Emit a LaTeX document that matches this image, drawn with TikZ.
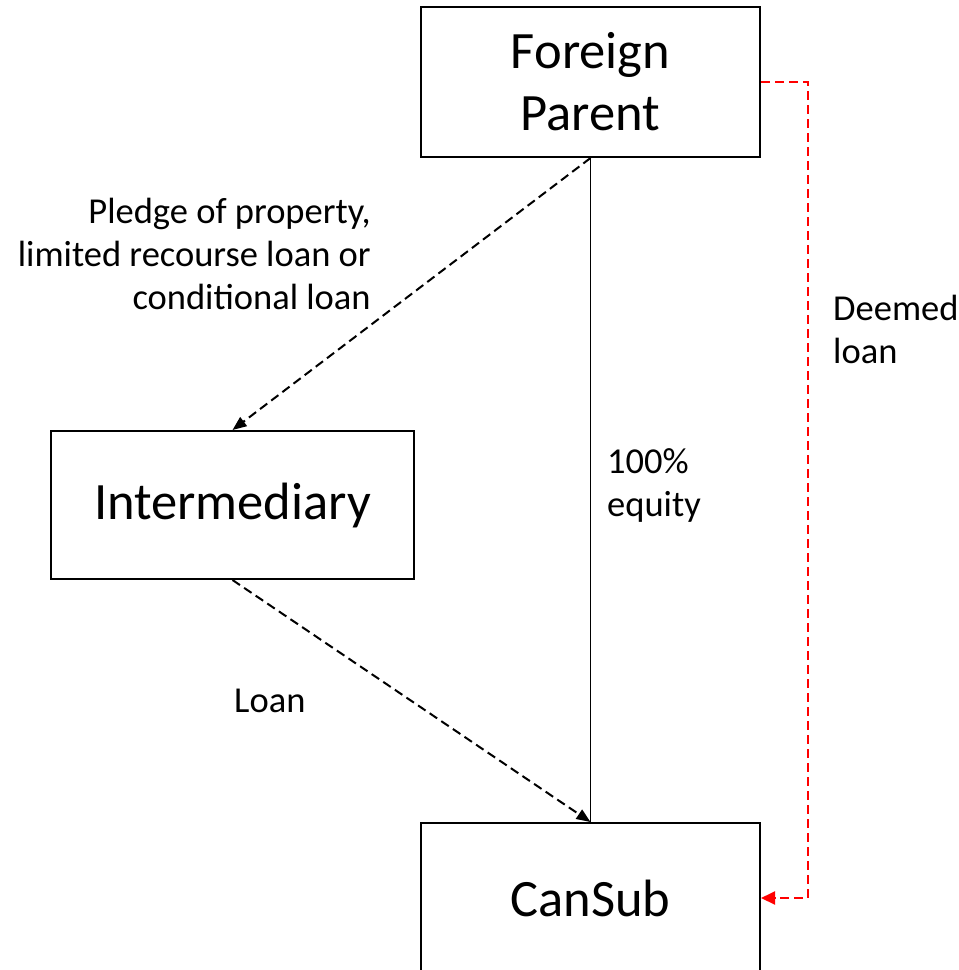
\documentclass[tikz,border=0pt]{standalone}
\usepackage{fontspec}
\setmainfont{Carlito}
\usetikzlibrary{arrows.meta,calc}
\begin{document}
\begin{tikzpicture}[x=1pt,y=-1pt,
  box/.style={draw=black,line width=2pt,minimum width=339pt,minimum height=150pt,inner sep=0pt,align=center,font=\fontsize{52.5}{62}\selectfont},
  lbl/.style={inner sep=0pt,font=\fontsize{36.5}{43}\selectfont},
  dasharrow/.style={line width=2pt,dash pattern=on 9pt off 5pt,-{Triangle[length=14pt,width=11pt]}},
  redarrow/.style={draw=red,line width=2pt,dash pattern=on 9pt off 5pt,-{Triangle[length=14pt,width=13pt]}},
  equity/.style={line width=1.2pt}]
\useasboundingbox (0,0) rectangle (959,970);
\node[box] (fp) at (590.5,82) {Foreign\\Parent};
\node[box,minimum width=363pt,minimum height=148pt] (int) at (232.5,505) {Intermediary};
\node[box] (cs) at (590.5,898) {CanSub};
\coordinate (dl) at (808,82);
\draw[equity] (fp.south) -- (cs.north);
\draw[dasharrow] (fp.south) -- (int.north);
\draw[dasharrow] (int.south) -- (cs.north);
\draw[redarrow] (fp.east) -- (dl) |- (cs.east);
\node[lbl,align=right,anchor=east] (pl) at (371,254) {Pledge of property,\\limited recourse loan or\\conditional loan};
\node[lbl,align=left,anchor=west] (eq) at (607,485) {100\%\\equity};
\node[lbl,align=left,anchor=west] (dm) at (833,329) {Deemed\\loan};
\node[lbl,anchor=west] (ln) at (234,701) {Loan};
\end{tikzpicture}
\end{document}
